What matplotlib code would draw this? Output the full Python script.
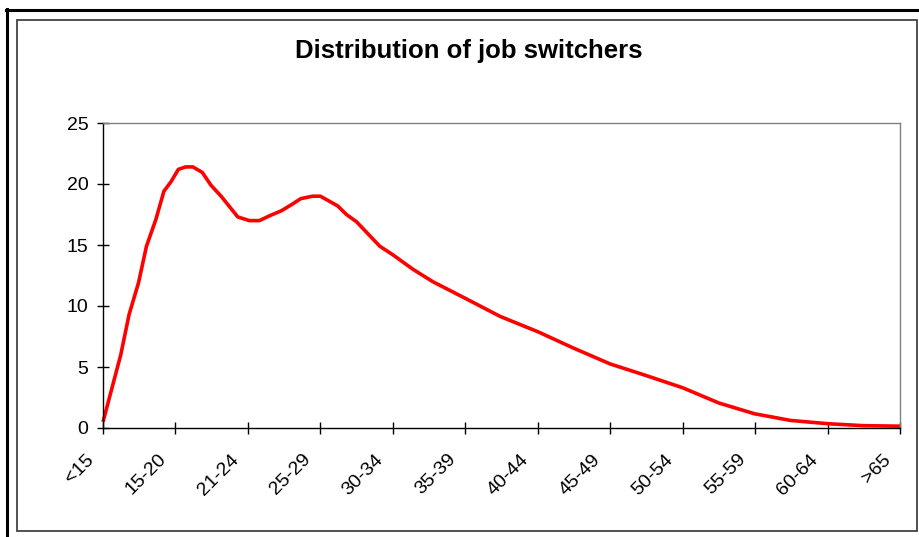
import matplotlib
matplotlib.use("Agg")
import matplotlib.pyplot as plt
from matplotlib.lines import Line2D
from matplotlib.patches import Rectangle
from matplotlib.transforms import ScaledTranslation

plt.rcParams['font.family'] = ['Liberation Sans', 'DejaVu Sans']

# age-group labels, one per category tick
categories = ['<15', '15-20', '21-24', '25-29', '30-34', '35-39',
              '40-44', '45-49', '50-54', '55-59', '60-64', '>65']

# points: position in category units, share of switchers
curve_pos = [0.00, 0.245, 0.36, 0.49, 0.60, 0.73, 0.84, 0.94, 1.04, 1.14,
             1.24, 1.37, 1.49, 1.63, 1.86, 2.02, 2.16, 2.30, 2.46, 2.60,
             2.73, 2.89, 3.00, 3.24, 3.36, 3.50, 3.66, 3.82, 4.00, 4.28,
             4.55, 4.99, 5.48, 6.01, 6.49, 7.00, 7.46, 8.00, 8.50, 8.99,
             9.49, 10.01, 10.50, 11.00]
curve_val = [0.5, 6.0, 9.3, 11.9, 14.9, 17.1, 19.4, 20.2, 21.2, 21.4,
             21.4, 20.95, 19.9, 19.0, 17.3, 17.0, 17.0, 17.4, 17.8, 18.3,
             18.8, 19.0, 19.0, 18.2, 17.5, 16.9, 15.9, 14.9, 14.2, 13.0,
             12.0, 10.66, 9.15, 7.87, 6.56, 5.25, 4.37, 3.3, 2.05, 1.17,
             0.62, 0.35, 0.19, 0.15]

W, H = 919, 537
fig = plt.figure(figsize=(W / 100, H / 100), dpi=100)

def fx(px):
    return px / W

def fy(py):
    return 1 - py / H

# outer heavy frame (only left and top visible in the crop)
fig.add_artist(Line2D([fx(7), fx(7)], [fy(9), 0], color='black', lw=2.2,
                      transform=fig.transFigure))
fig.add_artist(Line2D([fx(6), 1], [fy(9.5), fy(9.5)], color='black', lw=2.2,
                      transform=fig.transFigure))
# chart-area frame
fig.add_artist(Rectangle((fx(17), fy(531)), fx(917) - fx(17), fy(20) - fy(531),
                         fill=False, edgecolor='#333333', lw=1.2,
                         transform=fig.transFigure))

ax = fig.add_axes([fx(103), fy(428), fx(900) - fx(103), fy(123) - fy(428)])
ax.plot(curve_pos, curve_val, color='#ff0000', lw=2.6,
        solid_joinstyle='round', solid_capstyle='butt', clip_on=False)

ax.set_xlim(0, len(categories) - 1)
ax.set_ylim(0, 25)
ax.set_yticks(range(0, 26, 5))
ax.set_xticks(range(len(categories)))
ax.set_xticklabels(categories, rotation=45, ha='right', rotation_mode='anchor')

for side in ['top', 'right']:
    ax.spines[side].set_color('#808080')
for side in ['left', 'bottom']:
    ax.spines[side].set_color('black')
for s in ax.spines.values():
    s.set_linewidth(1.0)
ax.tick_params(axis='both', direction='inout', length=9, width=1.0,
               labelsize=14, colors='black')
ax.tick_params(axis='y', pad=6)
ax.tick_params(axis='x', pad=12)

shift = ScaledTranslation(-18 / 100, 0, fig.dpi_scale_trans)
for lab in ax.get_xticklabels():
    lab.set_transform(lab.get_transform() + shift)

fig.text(fx(469), fy(51), 'Distribution of job switchers', ha='center',
         va='center', fontsize=18.5, fontweight='bold')

fig.savefig('out.png', dpi=100)
